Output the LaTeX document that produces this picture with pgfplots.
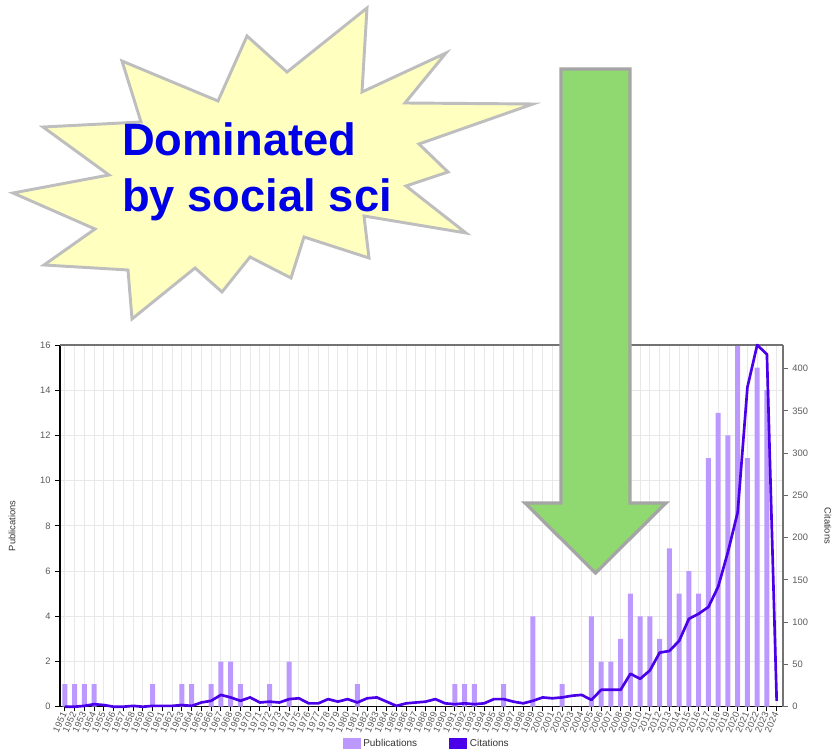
\documentclass[border=0pt]{standalone}
\usepackage{pgfplots}
\usepackage{pgfplotstable}
\pgfplotsset{compat=1.18}
\usepackage{fontspec}
\setmainfont{Liberation Sans}
\definecolor{pubcolor}{RGB}{187,153,255}
\definecolor{citecolor}{RGB}{74,0,232}
\definecolor{gridcol}{RGB}{232,232,232}
\definecolor{labcol}{RGB}{90,90,90}
\definecolor{starfill}{RGB}{255,255,192}
\definecolor{stardraw}{RGB}{190,190,190}
\definecolor{arrowfill}{RGB}{144,216,112}
\definecolor{arrowdraw}{RGB}{165,165,165}
\definecolor{textblue}{RGB}{0,0,230}

\pgfplotstableread{
year pubs
1951 1
1952 1
1953 1
1954 1
1955 0
1956 0
1957 0
1958 0
1959 0
1960 1
1961 0
1962 0
1963 1
1964 1
1965 0
1966 1
1967 2
1968 2
1969 1
1970 0
1971 0
1972 1
1973 0
1974 2
1975 0
1976 0
1977 0
1978 0
1979 0
1980 0
1981 1
1982 0
1983 0
1984 0
1985 0
1986 0
1987 0
1988 0
1989 0
1990 0
1991 1
1992 1
1993 1
1994 0
1995 0
1996 1
1997 0
1998 0
1999 4
2000 0
2001 0
2002 1
2003 0
2004 0
2005 4
2006 2
2007 2
2008 3
2009 5
2010 4
2011 4
2012 3
2013 7
2014 5
2015 6
2016 5
2017 11
2018 13
2019 12
2020 16
2021 11
2022 15
2023 14
2024 0
}\pubtable

\pgfplotstableread{
year cites
1951 0
1952 0
1953 1
1954 3
1955 2
1956 0
1957 0
1958 1
1959 0
1960 1
1961 1
1962 1
1963 2
1964 1
1965 5
1966 7
1967 14
1968 11
1969 7
1970 11
1971 5
1972 6
1973 5
1974 9
1975 10
1976 4
1977 4
1978 9
1979 6
1980 9
1981 5
1982 10
1983 11
1984 6
1985 1
1986 4
1987 5
1988 6
1989 9
1990 4
1991 3
1992 4
1993 3
1994 4
1995 9
1996 9
1997 6
1998 4
1999 7
2000 11
2001 10
2002 11
2003 13
2004 14
2005 8
2006 20
2007 20
2008 20
2009 39
2010 33
2011 43
2012 64
2013 66
2014 78
2015 104
2016 110
2017 118
2018 142
2019 183
2020 230
2021 378
2022 428
2023 417
2024 7
}\citetable

\begin{document}
\begin{tikzpicture}
\useasboundingbox (0,0) rectangle (624.75pt,561.75pt);
\begin{axis}[
  at={(45pt,31.7pt)}, anchor=south west,
  scale only axis, width=542.25pt, height=271.3pt,
  xmin=1950.5, xmax=2024.65, ymin=0, ymax=16,
  axis x line*=bottom, axis y line*=left,
  axis line style={black, line width=1.1pt},
  xtick={1951,...,2024}, ytick={0,2,...,16},
  xticklabel={\pgfmathparse{int(round(\tick))}\pgfmathresult},
  xmajorgrids, ymajorgrids, grid style={gridcol, line width=0.6pt},
  tick align=outside, major tick length=3.5pt,
  tick style={black, line width=0.7pt},
  /pgf/number format/assume math mode=true,
  /pgf/number format/1000 sep={},
  ticklabel style={font=\fontsize{7}{8}\selectfont, text=labcol},
  x tick label style={rotate=65, anchor=east, inner sep=1pt},
  ylabel={Publications},
  every axis y label/.style={at={(axis description cs:-0.0664,0.5)}, rotate=90, anchor=center, font=\fontsize{7}{8}\selectfont, text=black!80},
]
\addplot[ybar, bar width=0.5, fill=pubcolor, draw=none] table[x=year, y=pubs]{\pubtable};
\end{axis}
\begin{axis}[
  at={(45pt,31.7pt)}, anchor=south west,
  scale only axis, width=542.25pt, height=271.3pt,
  xmin=1950.5, xmax=2024.65, ymin=0, ymax=428,
  axis x line*=top, axis y line*=right,
  axis line style={black!55, line width=0.8pt},
  xtick=\empty, ytick={0,50,...,400},
  tick align=outside, major tick length=3.5pt,
  tick style={black!60, line width=0.7pt},
  clip=false,
  /pgf/number format/assume math mode=true,
  ticklabel style={font=\fontsize{7}{8}\selectfont, text=labcol},
  ylabel={Citations},
  every axis y label/.style={at={(axis description cs:1.0622,0.5)}, rotate=-90, anchor=center, font=\fontsize{7}{8}\selectfont, text=black!80},
  legend columns=2,
  legend style={at={(axis description cs:0.5076,-0.1032)}, anchor=center, draw=none, fill=none,
    font=\fontsize{7.5}{9}\selectfont, text=black!80,
    /tikz/every even column/.append style={column sep=22pt}},
  legend image code/.code={\fill[#1, draw=none] (0pt,-4.5pt) rectangle (13.5pt,4.5pt);},
]
\addlegendimage{fill=pubcolor, draw=none}
\addlegendentry{Publications}
\addlegendimage{fill=citecolor, draw=none}
\addlegendentry{Citations}
\addplot[citecolor, line width=2pt, line join=round, forget plot] table[x=year, y=cites]{\citetable};
\end{axis}
\begin{scope}[x=0.75pt, y=-0.75pt, shift={(0pt,561.75pt)}]
\draw[fill=starfill, draw=stardraw, line width=2.2pt]
  (367,8) -- (287,72) -- (247,36) -- (218,101) -- (122,61) -- (141,122) -- (43,127)
  -- (109,175) -- (13,193) -- (95,229) -- (44,265) -- (128,270) -- (132,319)
  -- (195,268) -- (222,292) -- (250,257) -- (291,278) -- (304,237) -- (369,258)
  -- (364,216) -- (466,233) -- (406,186) -- (448,172) -- (419,144) -- (533,104)
  -- (405,103) -- (446,53) -- (362,92) -- cycle;
\node[anchor=base west, inner sep=0pt, text=textblue, font=\fontsize{34}{41}\selectfont\bfseries] at (122,156) {Dominated};
\node[anchor=base west, inner sep=0pt, text=textblue, font=\fontsize{34}{41}\selectfont\bfseries] at (122,212) {by social sci};
\draw[fill=arrowfill, draw=arrowdraw, line width=2.4pt, line join=miter]
  (561,69) -- (630,69) -- (630,503) -- (666,503) -- (595.5,573) -- (525,503) -- (561,503) -- cycle;
\end{scope}
\end{tikzpicture}
\end{document}
